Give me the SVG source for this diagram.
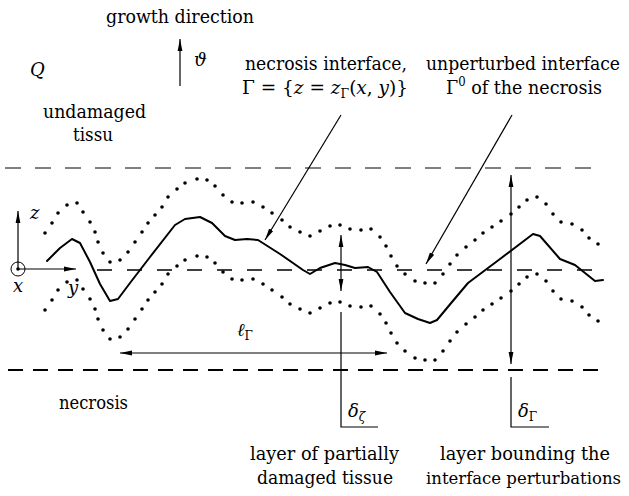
<svg xmlns="http://www.w3.org/2000/svg" xmlns:xlink="http://www.w3.org/1999/xlink" width="629" height="496" viewBox="0 0 629 496">
<defs>
<style>
text{font-family:'DejaVu Serif','Liberation Serif',serif;font-size:18px;fill:#000}
.i{font-style:italic}
.ln{fill:none;stroke:#000;stroke-width:1.2}
</style>
<marker id="ah" viewBox="0 0 12 6" refX="12" refY="3" markerWidth="12" markerHeight="6" markerUnits="userSpaceOnUse" orient="auto-start-reverse">
<path d="M0,0.6 L12,3 L0,5.4 Z" fill="#000"/>
</marker>
<marker id="dot" viewBox="-2 -2 4 4" markerWidth="4" markerHeight="4" markerUnits="userSpaceOnUse">
<circle r="1.8" fill="#000"/>
</marker>
</defs>
<rect width="629" height="496" fill="#fff"/>

<g id="bounds">
<line x1="5" y1="168" x2="600" y2="168" stroke="#000" stroke-width="1" stroke-dasharray="16 14"/>
<line x1="97" y1="270" x2="600" y2="270" stroke="#000" stroke-width="1.3" stroke-dasharray="15 15"/>
<line x1="8" y1="370" x2="600" y2="370" stroke="#000" stroke-width="2" stroke-dasharray="15 10"/>
</g>

<g id="axes" font-family="DejaVu Serif, serif">
<circle cx="18" cy="269" r="7" fill="none" stroke="#000" stroke-width="1"/>
<circle cx="18" cy="269" r="1.8" fill="#000"/>
<line class="ln" x1="18" y1="269" x2="18" y2="211" marker-end="url(#ah)"/>
<line class="ln" x1="18" y1="269" x2="76" y2="269" marker-end="url(#ah)"/>
<text class="i" x="30" y="219">z</text>
<text class="i" x="13" y="292">x</text>
<text class="i" x="68" y="294">y</text>
</g>

<g id="dotted">
<path id="upper" fill="none" stroke="none" marker-start="url(#dot)" marker-mid="url(#dot)" marker-end="url(#dot)" d="M45,233 L52,223 L58,213 L67,205 L77,203 L83,212 L90,222 L95,232 L98,242 L103,253 L110,262 L120,260 L128,252 L135,242 L142,232 L148,223 L155,215 L162,207 L168,197 L177,189 L185,183 L197,179 L207,180 L215,186 L223,195 L232,202 L242,203 L253,202 L263,207 L272,213 L282,220 L290,227 L300,232 L310,236 L320,231 L330,226 L340,225 L350,229 L361,230 L371,229 L380,237 L386,246 L391,256 L397,266 L405,274 L415,281 L425,283 L435,283 L443,274 L450,264 L457,255 L466,247 L475,240 L483,233 L492,227 L501,221 L511,214 L519,207 L527,200 L537,197 L546,204 L553,214 L561,222 L572,224 L582,230 L589,238 L598,244"/>
<use xlink:href="#upper" href="#upper" transform="translate(0,77)"/>
</g>

<g id="interface">
<polyline fill="none" stroke="#000" stroke-width="2" stroke-linejoin="round" stroke-linecap="round" points="47,261 60,248 72,239 80,243 90,262 100,284 110,301 118,299 130,283 150,257 175,225 185,219 200,217 212,223 225,236 235,240 247,239 258,240 280,254 303,270 310,274 320,268 335,263 345,265 355,268 368,267 377,272 390,292 405,313 418,319 430,323 437,320 452,302 468,283 500,259 533,234 540,236 560,259 575,265 585,273 595,281 603,280"/>
</g>

<g id="connectors">
<line class="ln" x1="180" y1="86" x2="180" y2="39" marker-end="url(#ah)"/>
<line class="ln" x1="341" y1="115" x2="265" y2="240" marker-end="url(#ah)"/>
<line class="ln" x1="512" y1="115" x2="426" y2="264" marker-end="url(#ah)"/>
<line class="ln" x1="341" y1="235" x2="341" y2="291" marker-start="url(#ah)" marker-end="url(#ah)"/>
<polyline class="ln" points="341,312 341,427 378,427"/>
<line class="ln" x1="511" y1="175" x2="511" y2="364" marker-start="url(#ah)" marker-end="url(#ah)"/>
<polyline class="ln" points="511,377 511,427 549,427"/>
<line class="ln" x1="120" y1="353" x2="387" y2="353" stroke-width="1.5" marker-start="url(#ah)" marker-end="url(#ah)"/>
</g>

<g id="labels" font-family="DejaVu Serif, serif">
<text x="106" y="23" textLength="148" lengthAdjust="spacingAndGlyphs">growth direction</text>
<text class="i" x="30" y="76">Q</text>
<text class="i" x="194" y="66">ϑ</text>
<text x="245" y="70" textLength="162" lengthAdjust="spacingAndGlyphs">necrosis interface,</text>
<text x="242" y="94" textLength="166" lengthAdjust="spacingAndGlyphs">Γ = {<tspan class="i">z</tspan> = <tspan class="i">z</tspan><tspan font-size="12" dy="4">Γ</tspan><tspan dy="-4">(</tspan><tspan class="i">x</tspan>, <tspan class="i">y</tspan>)}</text>
<text x="426" y="70" textLength="194" lengthAdjust="spacingAndGlyphs">unperturbed interface</text>
<text x="446" y="94" textLength="156" lengthAdjust="spacingAndGlyphs">Γ<tspan font-size="12" dy="-8">0</tspan><tspan dy="8"> of the necrosis</tspan></text>
<text x="43" y="118" textLength="103" lengthAdjust="spacingAndGlyphs">undamaged</text>
<text x="73" y="141" textLength="40" lengthAdjust="spacingAndGlyphs">tissu</text>
<text x="59" y="409" textLength="69" lengthAdjust="spacingAndGlyphs">necrosis</text>
<text class="i" x="237" y="336">ℓ<tspan font-size="12" font-style="normal" dy="4">Γ</tspan></text>
<text class="i" x="348" y="417">δ<tspan font-size="12" dy="4">ζ</tspan></text>
<text class="i" x="518" y="417">δ<tspan font-size="12" font-style="normal" dy="4">Γ</tspan></text>
<text x="250" y="460" textLength="149" lengthAdjust="spacingAndGlyphs">layer of partially</text>
<text x="257" y="484" textLength="136" lengthAdjust="spacingAndGlyphs">damaged tissue</text>
<text x="440" y="460" textLength="170" lengthAdjust="spacingAndGlyphs">layer bounding the</text>
<text x="426" y="484" style="font-size:16px" textLength="195" lengthAdjust="spacingAndGlyphs">interface perturbations</text>
</g>
</svg>
